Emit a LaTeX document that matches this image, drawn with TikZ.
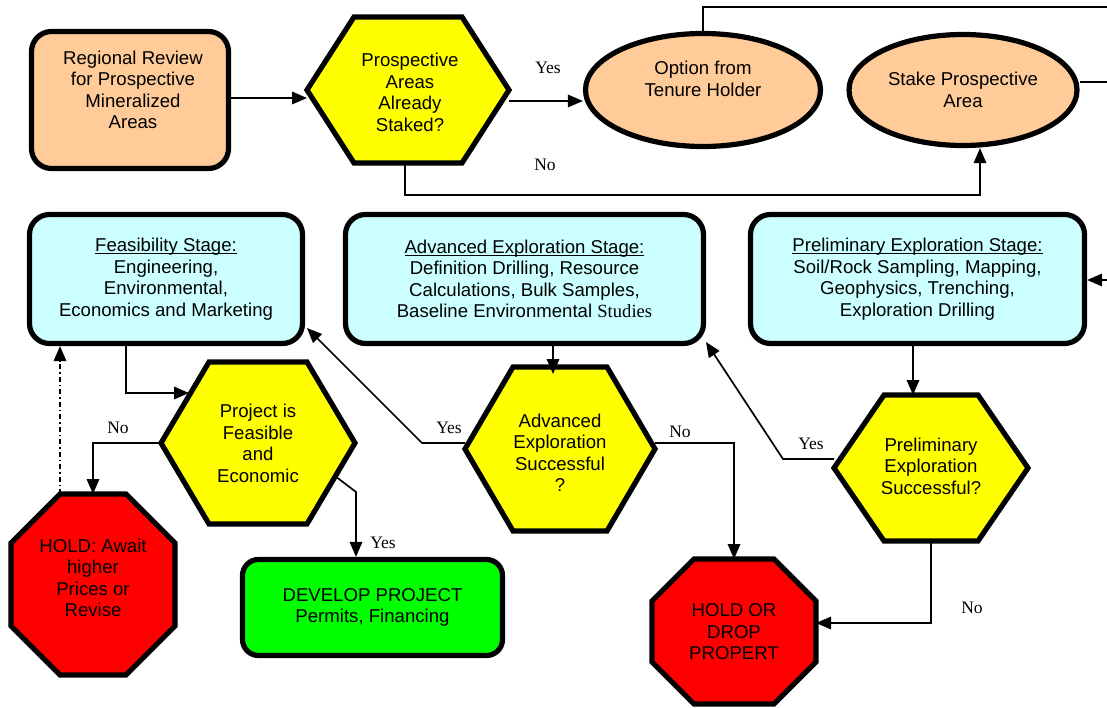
\documentclass[tikz,border=0pt]{standalone}
\usepackage{fontspec}
\setmainfont{Liberation Sans}
\newfontfamily\serifyes{Liberation Serif}
\usetikzlibrary{arrows.meta,shapes.geometric}

\definecolor{peach}{HTML}{FFCC99}
\definecolor{hexyellow}{HTML}{FFFF00}
\definecolor{stagecyan}{HTML}{CCFFFF}
\definecolor{stopred}{HTML}{FF0000}
\definecolor{gogreen}{HTML}{00FF00}

\newcommand{\ttl}[1]{\underline{\smash{#1}}\vphantom{#1}}

\tikzset{
  shapeborder/.style={draw=black, line width=5.2pt, line join=miter},
  frame/.style={draw=none, inner sep=0pt, outer sep=0pt},
  txt/.style={align=center, inner sep=0pt, font=\fontsize{18.6}{21.5}\selectfont},
  roundbox/.style={shapeborder, rounded corners=20pt, inner sep=0pt, align=center,
                   font=\fontsize{18.6}{21.5}\selectfont},
  ovalbox/.style={shapeborder, ellipse, fill=peach, inner sep=0pt, align=center,
                  font=\fontsize{18.6}{21.5}\selectfont},
  conn/.style={draw=black, line width=1.7pt},
  arr/.style={conn, -{Triangle[length=15pt,width=12.5pt]}},
  lbl/.style={font=\serifyes\fontsize{17.5}{20}\selectfont, inner sep=0pt},
}

% name, cx, cy, half width, half height, inset
\newcommand{\mkhex}[6]{%
  \draw[shapeborder, fill=hexyellow] (#2-#4,#3) -- (#2-#4+#6,#3-#5) -- (#2+#4-#6,#3-#5)
    -- (#2+#4,#3) -- (#2+#4-#6,#3+#5) -- (#2-#4+#6,#3+#5) -- cycle;
  \node[frame, minimum width=2*#4, minimum height=2*#5] (#1) at (#2,#3) {};
}
% name, x1, y1, x2, y2, chamfer, colour
\newcommand{\mkoct}[7]{%
  \draw[shapeborder, fill=#7] (#2+#6,#3) -- (#4-#6,#3) -- (#4,#3+#6) -- (#4,#5-#6)
    -- (#4-#6,#5) -- (#2+#6,#5) -- (#2,#5-#6) -- (#2,#3+#6) -- cycle;
  \node[frame, minimum width=#4-#2, minimum height=#5-#3] (#1) at ({(#2+#4)/2},{(#3+#5)/2}) {};
}

\begin{document}
\begin{tikzpicture}[x=1pt, y=-1pt]
\useasboundingbox (0,0) rectangle (1107,708);

% ---- top row ----
\node[roundbox, fill=peach, minimum width=197, minimum height=137] (rr) at (130,100) {};
\node[txt] (rrt) at (133,90) {Regional Review\\for Prospective\\Mineralized\\Areas};

\mkhex{h1}{408}{90}{101}{73}{47}
\node[txt] (h1t) at (410,92.5) {Prospective\\Areas\\Already\\Staked?};

\node[ovalbox, minimum width=235, minimum height=113] (e1) at (703,90) {};
\node[txt] (e1t) at (703,79) {Option from\\Tenure Holder};
\node[ovalbox, minimum width=228, minimum height=111] (e2) at (963,90) {Stake Prospective\\Area};

% ---- stage boxes ----
\node[roundbox, fill=stagecyan, minimum width=273, minimum height=129] (feas) at (166,279)
  {\ttl{Feasibility Stage:}\\Engineering,\\Environmental,\\Economics and Marketing};
\node[roundbox, fill=stagecyan, minimum width=358, minimum height=129] (adv) at (524.5,279)
  {\ttl{Advanced Exploration Stage:}\\Definition Drilling, Resource\\Calculations, Bulk Samples,\\Baseline Environmental {\serifyes Studies}};
\node[roundbox, fill=stagecyan, minimum width=334, minimum height=129] (prel) at (917.5,279)
  {\ttl{Preliminary Exploration Stage:}\\Soil/Rock Sampling, Mapping,\\Geophysics, Trenching,\\Exploration Drilling};

% ---- decisions ----
\mkhex{hp}{258}{443}{97}{81}{48}
\node[txt] (hpt) at (258,443.5) {Project is\\Feasible\\and\\Economic};
\mkhex{ha}{560}{449}{95}{82}{48}
\node[txt] (hat) at (560,453) {Advanced\\Exploration\\Successful\\?};
\mkhex{hr}{931}{468}{97}{73}{50}
\node[txt] (hrt) at (931,466) {Preliminary\\Exploration\\Successful?};

% ---- outcomes ----
\mkoct{hold}{11}{494}{175}{675}{49}{stopred}
\node[txt] (holdt) at (93,578) {HOLD: Await\\higher\\Prices or\\Revise};
\mkoct{drop}{652}{559}{816}{704}{42}{stopred}
\node[txt] (dropt) at (734,632) {HOLD OR\\DROP\\PROPERT};
\node[roundbox, rounded corners=16pt, fill=gogreen, minimum width=260, minimum height=96] (dev) at (372.5,607.5)
  {DEVELOP PROJECT\\Permits, Financing};

% ---- coordinates for free ends ----
\coordinate (nob) at (405,195);
\coordinate (topright) at (1107,7);
\coordinate (midright) at (1107,82);
\coordinate (lowright) at (1107,280);
\coordinate (hpin) at (189,393);
\coordinate (hpout) at (335,476);
\coordinate (hpyes) at (356,492);
\coordinate (hayes) at (422,443);
\coordinate (feasin) at (307,328);
\coordinate (hryes) at (783,459);
\coordinate (advin) at (706,342);

% ---- connectors ----
\draw[arr] ([yshift=2pt]rr.east) -- ([yshift=2pt]rr.east -| h1.west);
\draw[arr] ([yshift=-11pt]h1.east) -- ([yshift=-11pt]h1.east -| e1.west);
\draw[arr] ([xshift=-3pt]h1.south) |- ([xshift=17pt]e2.south |- nob) -- ([xshift=17pt]e2.south);
\draw[conn] (e1.north) |- (topright);
\draw[conn] (e2.east |- midright) -- (midright);
\draw[arr] (lowright) -- (lowright -| prel.east);

\draw[arr] ([xshift=-40pt]feas.south) |- (hpin);
\draw[arr] (hp.west) -| (hold.north);
\draw[arr, dash pattern=on 5pt off 3pt on 1.5pt off 3pt] ([xshift=-33pt]hold.north) -- ([xshift=-33pt]hold.north |- feas.south);
\draw[arr] (hpout) -- (hpyes) -- (hpyes |- dev.north);

\draw[arr, shorten >=-7pt] ([xshift=28.5pt]adv.south) -- ([xshift=28.5pt]adv.south |- ha.north);
\draw[arr] ([yshift=6pt]ha.east) -| (drop.north);
\draw[arr] ([yshift=6pt]ha.west) -- (hayes) -- (feasin);

\draw[arr] ([xshift=-4.5pt]prel.south) -- ([xshift=-4.5pt]prel.south |- hr.north);
\draw[arr] ([yshift=9pt]hr.west) -- (hryes) -- (advin);
\draw[arr] (hr.south) |- ([yshift=8.5pt]drop.east);

% ---- labels ----
\node[lbl] (yes1) at (548,68) {Yes};
\node[lbl] (no1) at (545,165) {No};
\node[lbl] (no2) at (118,428) {No};
\node[lbl] (yes2) at (383,543) {Yes};
\node[lbl] (yes3) at (449,428) {Yes};
\node[lbl] (no3) at (680,432) {No};
\node[lbl] (yes4) at (811,444) {Yes};
\node[lbl] (no4) at (972,608) {No};
\end{tikzpicture}
\end{document}
